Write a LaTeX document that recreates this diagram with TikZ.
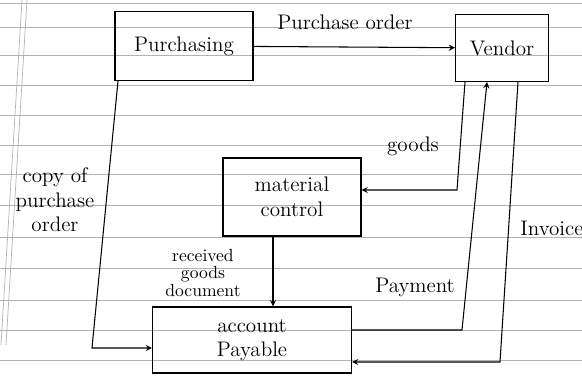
\documentclass[tikz,border=0pt]{standalone}
\begin{document}
\begin{tikzpicture}[x=0.02cm,y=-0.02cm,
  box/.style={draw,semithick,align=center,font=\large},
  lbl/.style={font=\large,align=center,inner sep=1pt},
  flow/.style={semithick,->,>=stealth}]

\useasboundingbox (0,0) rectangle (582,385);

% ruled paper
\foreach \y in {3,27,55,85,115,145,174,205,237,268,300,330,360}
  \draw[gray!60] (0,\y) -- (582,\y);
\draw[gray!60] (22,0) -- (1,345);
\draw[gray!60] (27,0) -- (6,345);

\node[box,minimum width=2.76cm,minimum height=1.38cm] (purch) at (184,46) {Purchasing};
\node[box,minimum width=1.86cm,minimum height=1.34cm] (vendor) at (502,48) {Vendor};
\node[box,minimum width=2.76cm,minimum height=1.56cm] (matctl) at (292,197) {material\\control};
\node[box,minimum width=3.98cm,minimum height=1.32cm] (accpay) at (252,340) {account\\Payable};

\coordinate (po1) at (118,0);
\coordinate (po2) at (92,348);
\coordinate (g1) at (465,0);
\coordinate (g2) at (457,190);
\coordinate (p1) at (462,330);
\coordinate (p2) at (487,0);
\coordinate (i1) at (518,0);
\coordinate (i2) at (500,362);
\coordinate (r1) at (273,0);

\draw[flow] (purch) -- (vendor);
\draw[flow] (purch.south -| po1) -- (po2) -- (po2 -| accpay.west);
\draw[flow] (vendor.south -| g1) -- (g2) -- (g2 -| matctl.east);
\draw[flow] (accpay.east |- p1) -- (p1) -- (vendor.south -| p2);
\draw[flow] (vendor.south -| i1) -- (i2) -- (i2 -| accpay.east);
\draw[flow] (matctl.south -| r1) -- (accpay.north -| r1);

\node[lbl] (lpo) at (345,22) {Purchase order};
\node[lbl] (lcopy) at (55,200) {copy of\\purchase\\order};
\node[lbl] (lgoods) at (413,146) {goods};
\node[lbl,font=\normalsize] (lrec) at (203,273) {received\\[-2pt]goods\\[-2pt]document};
\node[lbl] (lpay) at (415,287) {Payment};
\node[lbl] (linv) at (552,228) {Invoice};
\end{tikzpicture}
\end{document}
